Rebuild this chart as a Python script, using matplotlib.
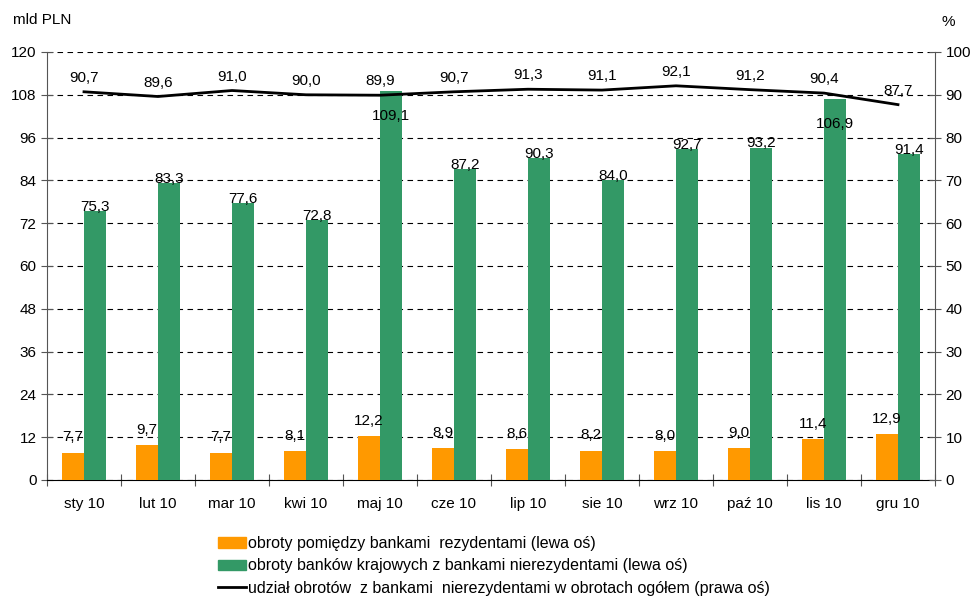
import numpy as np
import matplotlib.pyplot as plt
from matplotlib.patches import Patch
from matplotlib.lines import Line2D

plt.rcParams['font.family'] = ['Liberation Sans', 'DejaVu Sans']

# obroty na rynku walutowym 2010
miesiace = ['sty 10', 'lut 10', 'mar 10', 'kwi 10', 'maj 10', 'cze 10',
            'lip 10', 'sie 10', 'wrz 10', 'paź 10', 'lis 10', 'gru 10']
rezydenci = [7.7, 9.7, 7.7, 8.1, 12.2, 8.9, 8.6, 8.2, 8.0, 9.0, 11.4, 12.9]
nierezydenci = [75.3, 83.3, 77.6, 72.8, 109.1, 87.2, 90.3, 84.0, 92.7, 93.2, 106.9, 91.4]
udzial = [90.7, 89.6, 91.0, 90.0, 89.9, 90.7, 91.3, 91.1, 92.1, 91.2, 90.4, 87.7]

pomaranczowy = '#FF9900'
zielony = '#339966'
fs = 11

def fmt(v):
    return ('%.1f' % v).replace('.', ',')

fig = plt.figure(figsize=(9.77, 5.99), dpi=100)
ax = fig.add_axes([0.0481, 0.1987, 0.9089, 0.7145])
ax2 = ax.twinx()

x = np.arange(len(miesiace))
w = 0.3

ax.bar(x - w / 2, rezydenci, w, color=pomaranczowy, zorder=3)
ax.bar(x + w / 2, nierezydenci, w, color=zielony, zorder=3)

for xi, v in zip(x, rezydenci):
    ax.annotate(fmt(v), (xi - w / 2, v), xytext=(0, 11), textcoords='offset points',
                ha='center', va='center', fontsize=fs, zorder=5)
for xi, v in zip(x, nierezydenci):
    dy = -18 if v > 100 else 3
    ax.annotate(fmt(v), (xi + w / 2, v), xytext=(0, dy), textcoords='offset points',
                ha='center', va='center', fontsize=fs, zorder=5)

ax.set_xlim(-0.5, len(miesiace) - 0.5)
ax.set_ylim(0, 120)
ax.set_yticks(np.arange(0, 121, 12))
ax.set_xticks(np.arange(-0.5, len(miesiace)), minor=False)
ax.set_xticklabels([])
ax.set_xticks(x, minor=True)
ax.set_xticklabels(miesiace, minor=True, fontsize=fs)
ax.tick_params(axis='x', which='minor', length=0, pad=12)
ax.tick_params(axis='x', which='major', direction='inout', length=8, color='#555555')
ax.tick_params(axis='y', direction='inout', length=8, color='#555555', labelsize=fs)
ax.yaxis.grid(True, linestyle=(0, (5, 4)), color='black', linewidth=0.8, zorder=0)
ax.set_axisbelow(True)

for s in ['top', 'right']:
    ax.spines[s].set_visible(False)
for s in ['top', 'left', 'bottom']:
    ax2.spines[s].set_visible(False)
ax.spines['left'].set_color('#555555')
ax.spines['bottom'].set_color('black')
ax2.spines['right'].set_color('#555555')

ax2.plot(x, udzial, color='black', linewidth=2, zorder=4)
for xi, v in zip(x, udzial):
    ax2.annotate(fmt(v), (xi, v), xytext=(0, 10), textcoords='offset points',
                 ha='center', va='center', fontsize=fs)
ax2.set_ylim(0, 100)
ax2.set_yticks(np.arange(0, 101, 10))
ax2.tick_params(axis='y', direction='inout', length=8, color='#555555', labelsize=fs)

fig.text(0.013, 0.966, 'mld PLN', fontsize=fs, va='center')
fig.text(0.964, 0.963, '%', fontsize=fs, va='center')

uchwyty = [
    Patch(color=pomaranczowy),
    Patch(color=zielony),
    Line2D([0], [0], color='black', linewidth=2),
]
opisy = [
    'obroty pomiędzy bankami  rezydentami (lewa oś)',
    'obroty banków krajowych z bankami nierezydentami (lewa oś)',
    'udział obrotów  z bankami  nierezydentami w obrotach ogółem (prawa oś)',
]
fig.legend(uchwyty, opisy, loc='upper left', bbox_to_anchor=(0.215, 0.118),
           frameon=False, fontsize=11.5, handlelength=1.75, handleheight=0.65,
           handletextpad=0.1, labelspacing=0.45, borderpad=0)

fig.savefig('out.png', dpi=100)
